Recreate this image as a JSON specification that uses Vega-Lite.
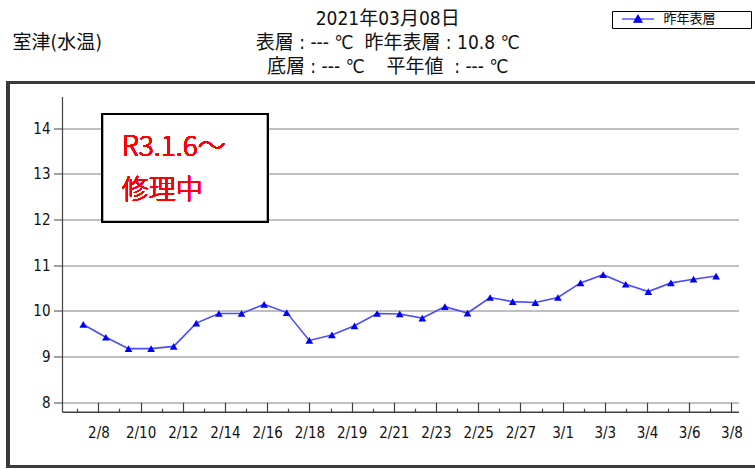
{
  "$schema": "https://vega.github.io/schema/vega-lite/v6.json",
  "width": 676.5,
  "height": 315.2,
  "autosize": {"type": "none"},
  "padding": {"left": 62, "top": 96.5, "right": 16.5, "bottom": 57.3},
  "background": "white",
  "config": {"view": {"stroke": null}, "font": "DejaVu Sans Condensed"},
  "title": {
    "text": ["2021年03月08日", "表層 : --- ℃\u00a0\u00a0昨年表層 : 10.8 ℃", "底層 : --- ℃\u00a0\u00a0\u00a0\u00a0平年値\u00a0\u00a0: --- ℃"],
    "anchor": "middle",
    "frame": "group",
    "dx": -12.5,
    "dy": 66,
    "offset": 0,
    "fontSize": 19,
    "fontWeight": "normal",
    "font": "DejaVu Sans Condensed, Noto Sans CJK JP",
    "lineHeight": 24,
    "color": "#111111"
  },
  "resolve": {"axis": {"x": "independent"}},
  "data": {
    "values": [
      {"i": 0, "date": "2/8", "v": 9.70},
      {"i": 1, "date": "2/9", "v": 9.42},
      {"i": 2, "date": "2/10", "v": 9.17},
      {"i": 3, "date": "2/11", "v": 9.17},
      {"i": 4, "date": "2/12", "v": 9.22},
      {"i": 5, "date": "2/13", "v": 9.73},
      {"i": 6, "date": "2/14", "v": 9.94},
      {"i": 7, "date": "2/15", "v": 9.94},
      {"i": 8, "date": "2/16", "v": 10.14},
      {"i": 9, "date": "2/17", "v": 9.96},
      {"i": 10, "date": "2/18", "v": 9.35},
      {"i": 11, "date": "2/19", "v": 9.47},
      {"i": 12, "date": "2/20", "v": 9.67},
      {"i": 13, "date": "2/21", "v": 9.94},
      {"i": 14, "date": "2/22", "v": 9.93},
      {"i": 15, "date": "2/23", "v": 9.84},
      {"i": 16, "date": "2/24", "v": 10.09},
      {"i": 17, "date": "2/25", "v": 9.95},
      {"i": 18, "date": "2/26", "v": 10.29},
      {"i": 19, "date": "2/27", "v": 10.20},
      {"i": 20, "date": "2/28", "v": 10.18},
      {"i": 21, "date": "3/1", "v": 10.29},
      {"i": 22, "date": "3/2", "v": 10.61},
      {"i": 23, "date": "3/3", "v": 10.79},
      {"i": 24, "date": "3/4", "v": 10.58},
      {"i": 25, "date": "3/5", "v": 10.42},
      {"i": 26, "date": "3/6", "v": 10.61},
      {"i": 27, "date": "3/7", "v": 10.69},
      {"i": 28, "date": "3/8", "v": 10.76}
    ]
  },
  "layer": [
    {
      "mark": {"type": "line", "color": "#4a4aff", "strokeWidth": 1.6},
      "encoding": {
        "x": {
          "field": "i",
          "type": "quantitative",
          "scale": {"domain": [-0.942, 28.99], "nice": false, "zero": false},
          "axis": {
            "orient": "bottom",
            "values": [0.669, 2.536, 4.403, 6.270, 8.137, 10.005, 11.872, 13.739, 15.606, 17.473, 19.341, 21.208, 23.075, 24.942, 26.809, 28.677],
            "labelExpr": "['2/8','2/10','2/12','2/14','2/16','2/18','2/19','2/21','2/23','2/25','2/27','3/1','3/3','3/4','3/6','3/8'][round((datum.value-0.669)/1.8672)]",
            "title": null,
            "grid": false,
            "domainColor": "#404040",
            "domainWidth": 1.6,
            "tickColor": "#404040",
            "tickWidth": 1.2,
            "tickSize": -9.5,
            "labelPadding": 23.5,
            "labelFont": "DejaVu Sans Condensed",
            "labelFontSize": 15,
            "labelColor": "#111111",
            "labelFlush": false,
            "labelOverlap": false,
            "labelBound": false
          }
        },
        "y": {
          "field": "v",
          "type": "quantitative",
          "scale": {"domain": [7.79, 14.69], "nice": false, "zero": false},
          "axis": {
            "values": [8, 9, 10, 11, 12, 13, 14],
            "title": "室津(水温)",
            "titleAngle": 0,
            "titleAlign": "left",
            "titleBaseline": "middle",
            "titleX": -50,
            "titleY": -54,
            "titleFont": "DejaVu Sans Condensed, Noto Sans CJK JP",
            "titleFontSize": 19,
            "titleFontWeight": "normal",
            "titleColor": "#111111",
            "grid": true,
            "gridColor": "#808080",
            "gridWidth": 1,
            "gridOpacity": 1,
            "domainColor": "#404040",
            "domainWidth": 1.2,
            "tickColor": "#404040",
            "tickSize": 8.5,
            "labelFont": "DejaVu Sans Condensed",
            "labelFontSize": 15,
            "labelColor": "#111111",
            "labelPadding": 3.5
          }
        }
      }
    },
    {
      "mark": {"type": "point", "shape": "triangle-up", "filled": true, "size": 60, "opacity": 1},
      "encoding": {
        "x": {
          "field": "i",
          "type": "quantitative",
          "axis": {
            "orient": "bottom",
            "values": [-0.265, 1.602, 3.469, 5.337, 7.204, 9.071, 10.938, 12.805, 14.673, 16.540, 18.407, 20.274, 22.141, 24.009, 25.876, 27.743],
            "labels": false,
            "domain": false,
            "grid": false,
            "title": null,
            "tickColor": "#404040",
            "tickWidth": 1.2,
            "tickSize": -3.5
          }
        },
        "y": {"field": "v", "type": "quantitative"},
        "color": {
          "datum": "昨年表層",
          "scale": {"range": ["#0000ff"]},
          "legend": {
            "title": null,
            "orient": "none",
            "legendX": 550,
            "legendY": -85.5,
            "strokeColor": "#000000",
            "padding": 1.5,
            "fillColor": "white",
            "symbolType": "M-3.2,0H3.2M0,-0.75L0.8,0.65H-0.8ZM21.8,0",
            "symbolSize": 100,
            "symbolFillColor": "#0000ff",
            "symbolStrokeColor": "#0000ff",
            "symbolStrokeWidth": 1.2,
            "symbolOffset": 18,
            "labelOffset": 19,
            "labelFont": "Noto Sans CJK JP",
            "labelFontSize": 13,
            "labelColor": "#000000",
            "encode": {"legend": {"update": {"strokeWidth": {"value": 2}}}}
          }
        }
      }
    },
    {
      "mark": {"type": "rect", "fill": "white", "stroke": "#000000", "strokeWidth": 2},
      "encoding": {
        "x": {"datum": 0.841, "axis": null},
        "x2": {"datum": 8.159},
        "y": {"datum": 14.307},
        "y2": {"datum": 11.95}
      }
    },
    {
      "mark": {"type": "text", "align": "left", "baseline": "alphabetic", "font": "Noto Sans CJK JP", "fontWeight": 300, "fontSize": 28, "color": "#ff0000"},
      "encoding": {
        "x": {"datum": 1.70, "axis": null},
        "y": {"datum": 13.395},
        "text": {"value": "R3.1.6～"}
      }
    },
    {
      "mark": {"type": "text", "align": "left", "baseline": "alphabetic", "font": "Noto Sans CJK JP", "fontWeight": 300, "fontSize": 27, "color": "#ff0000"},
      "encoding": {
        "x": {"datum": 1.70, "axis": null},
        "y": {"datum": 12.44},
        "text": {"value": "修理中"}
      }
    },
    {
      "mark": {"type": "rect", "fill": "transparent", "stroke": "#3a3a3a", "strokeWidth": 2.5},
      "encoding": {
        "x": {"datum": -3.332, "axis": null},
        "x2": {"datum": 30.5},
        "y": {"datum": 14.996},
        "y2": {"datum": 6.583}
      }
    }
  ]
}
